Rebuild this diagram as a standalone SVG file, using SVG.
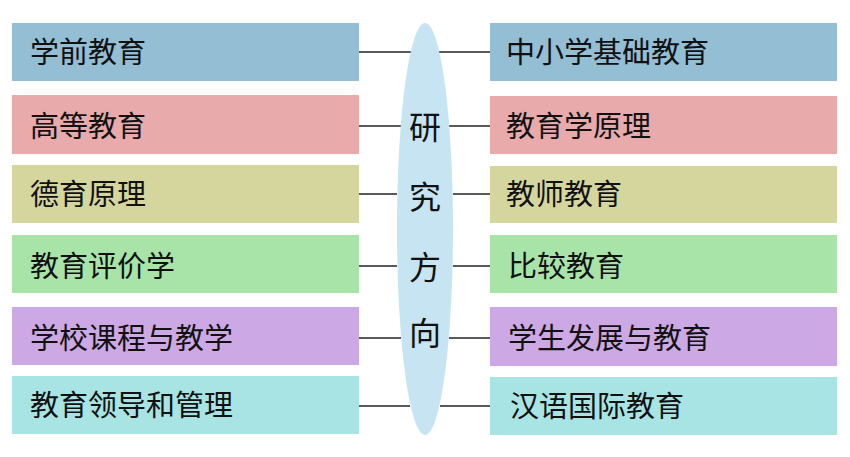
<svg xmlns="http://www.w3.org/2000/svg" width="850" height="457" viewBox="0 0 850 457">
<style>
.lbl{font-family:"Noto Sans CJK SC","Noto Sans CJK JP",sans-serif;font-size:29px;fill:#111}
.ctr{font-family:"Noto Sans CJK SC","Noto Sans CJK JP",sans-serif;font-size:32px;fill:#111;text-anchor:middle}
.c line{stroke:#222;stroke-width:1.3}
</style>
<rect width="850" height="457" fill="#fff"/>
<g id="connectors" class="c">
<line x1="359" y1="52" x2="411" y2="52"/>
<line x1="359" y1="126" x2="401" y2="126"/>
<line x1="359" y1="194" x2="397" y2="194"/>
<line x1="359" y1="266" x2="397" y2="266"/>
<line x1="359" y1="338" x2="401" y2="338"/>
<line x1="359" y1="406" x2="410" y2="406"/>
<line x1="439" y1="52" x2="490" y2="52"/>
<line x1="449" y1="126" x2="490" y2="126"/>
<line x1="453" y1="194" x2="490" y2="194"/>
<line x1="453" y1="266" x2="490" y2="266"/>
<line x1="449" y1="338" x2="490" y2="338"/>
<line x1="440" y1="406" x2="490" y2="406"/>
</g>
<g id="center">
<ellipse cx="425" cy="229" rx="28" ry="206" fill="#C6E4F2"/>
<text class="ctr" x="425" y="139">研</text>
<text class="ctr" x="425" y="209">究</text>
<text class="ctr" x="425" y="279">方</text>
<text class="ctr" x="425" y="345">向</text>
</g>
<g id="l1"><rect x="12" y="23" width="347" height="58" fill="#93BED4"/><text class="lbl" x="30" y="63">学前教育</text></g>
<g id="l2"><rect x="12" y="95" width="347" height="59" fill="#E8AAAA"/><text class="lbl" x="30" y="137">高等教育</text></g>
<g id="l3"><rect x="12" y="165" width="347" height="58" fill="#D4D69E"/><text class="lbl" x="30" y="205">德育原理</text></g>
<g id="l4"><rect x="12" y="235" width="347" height="58" fill="#A8E4A8"/><text class="lbl" x="30" y="277">教育评价学</text></g>
<g id="l5"><rect x="12" y="307" width="347" height="58" fill="#CCA8E4"/><text class="lbl" x="30" y="349">学校课程与教学</text></g>
<g id="l6"><rect x="12" y="376" width="347" height="58" fill="#A8E4E4"/><text class="lbl" x="30" y="416">教育领导和管理</text></g>
<g id="r1"><rect x="490" y="23" width="347" height="58" fill="#93BED4"/><text class="lbl" x="506" y="63">中小学基础教育</text></g>
<g id="r2"><rect x="490" y="96" width="347" height="58" fill="#E8AAAA"/><text class="lbl" x="506" y="137">教育学原理</text></g>
<g id="r3"><rect x="490" y="166" width="347" height="57" fill="#D4D69E"/><text class="lbl" x="506" y="205">教师教育</text></g>
<g id="r4"><rect x="490" y="235" width="347" height="58" fill="#A8E4A8"/><text class="lbl" x="508" y="277">比较教育</text></g>
<g id="r5"><rect x="490" y="307" width="347" height="59" fill="#CCA8E4"/><text class="lbl" x="508" y="349">学生发展与教育</text></g>
<g id="r6"><rect x="490" y="377" width="347" height="58" fill="#A8E4E4"/><text class="lbl" x="510" y="417">汉语国际教育</text></g>
</svg>
